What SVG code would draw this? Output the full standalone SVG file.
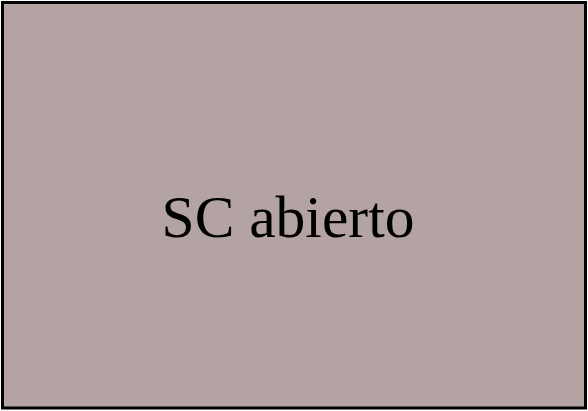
<svg xmlns="http://www.w3.org/2000/svg" width="588" height="411" viewBox="0 0 588 411">
<style>
.box{fill:#b3a3a3;stroke:#000;stroke-width:3}
.lbl{font-family:"Liberation Serif","Times New Roman",serif;font-size:59.5px;fill:#000}
</style>
<g id="node-sc-abierto">
<rect class="box" x="2.5" y="2.5" width="583" height="405.5"/>
<text class="lbl" x="288" y="237" text-anchor="middle">SC abierto</text>
</g>
<g id="connectors"/>
</svg>
